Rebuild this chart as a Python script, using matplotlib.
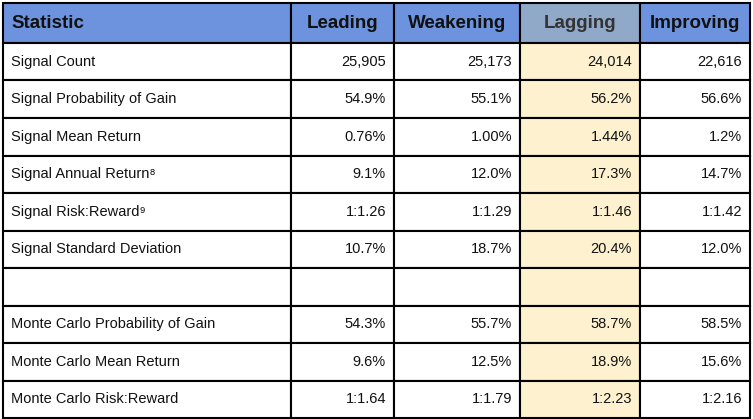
import matplotlib.pyplot as plt
from matplotlib.patches import Rectangle

columns = ["Statistic", "Leading", "Weakening", "Lagging", "Improving"]
row_labels = [
    "Signal Count",
    "Signal Probability of Gain",
    "Signal Mean Return",
    "Signal Annual Return⁸",
    "Signal Risk:Reward⁹",
    "Signal Standard Deviation",
    "",
    "Monte Carlo Probability of Gain",
    "Monte Carlo Mean Return",
    "Monte Carlo Risk:Reward",
]
leading = ["25,905", "54.9%", "0.76%", "9.1%", "1:1.26", "10.7%", "", "54.3%", "9.6%", "1:1.64"]
weakening = ["25,173", "55.1%", "1.00%", "12.0%", "1:1.29", "18.7%", "", "55.7%", "12.5%", "1:1.79"]
lagging = ["24,014", "56.2%", "1.44%", "17.3%", "1:1.46", "20.4%", "", "58.7%", "18.9%", "1:2.23"]
improving = ["22,616", "56.6%", "1.2%", "14.7%", "1:1.42", "12.0%", "", "58.5%", "15.6%", "1:2.16"]

col_edges = [3, 291, 394, 520, 640, 750]
header_h = 40
row_h = 37.5
top = 3
fonts = ["Liberation Sans", "DejaVu Sans"]

fig = plt.figure(figsize=(7.53, 4.19), dpi=100)
ax = fig.add_axes([0, 0, 1, 1])
ax.set_xlim(0, 753)
ax.set_ylim(419, 0)
ax.axis("off")

head_blue = "#6d93df"
head_lag = "#91a9c9"
cell_lag = "#fdf1cf"

# header
for i, name in enumerate(columns):
    x0, x1 = col_edges[i], col_edges[i + 1]
    fc = head_lag if name == "Lagging" else head_blue
    ax.add_patch(Rectangle((x0, top), x1 - x0, header_h, facecolor=fc,
                           edgecolor="black", linewidth=1.5))
    tc = "#333333" if name == "Lagging" else "#111111"
    if i == 0:
        ax.text(x0 + 8, top + header_h / 2, name, ha="left", va="center",
                fontsize=13.5, fontweight="bold", color=tc, family=fonts)
    else:
        ax.text((x0 + x1) / 2, top + header_h / 2, name, ha="center", va="center",
                fontsize=13.5, fontweight="bold", color=tc, family=fonts)

data_cols = [leading, weakening, lagging, improving]
for r, label in enumerate(row_labels):
    y0 = top + header_h + r * row_h
    for i in range(5):
        x0, x1 = col_edges[i], col_edges[i + 1]
        fc = cell_lag if i == 3 else "white"
        ax.add_patch(Rectangle((x0, y0), x1 - x0, row_h, facecolor=fc,
                               edgecolor="black", linewidth=1.5))
        if i == 0:
            ax.text(x0 + 8, y0 + row_h / 2, label, ha="left", va="center",
                    fontsize=10.5, color="#111111", family=fonts)
        else:
            ax.text(x1 - 8, y0 + row_h / 2, data_cols[i - 1][r], ha="right",
                    va="center", fontsize=10.5, color="#111111", family=fonts)

fig.savefig("out.png", dpi=100)
